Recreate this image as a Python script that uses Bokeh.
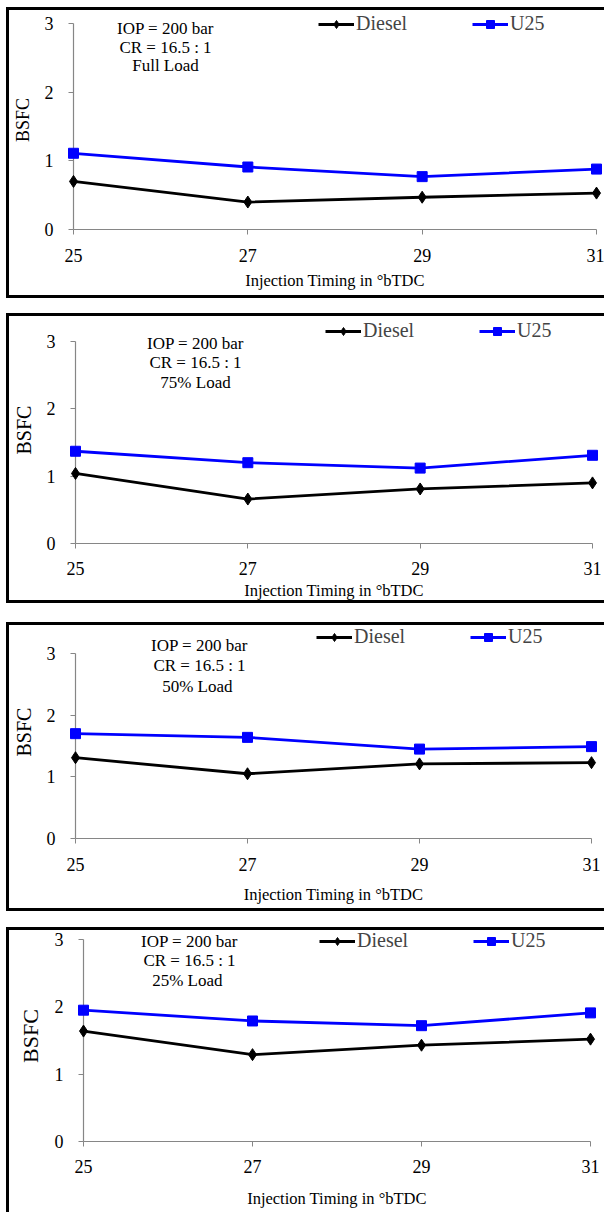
from bokeh.plotting import figure
from bokeh.layouts import column, row
from bokeh.models import Range1d, FixedTicker, Label, Legend, LegendItem
from bokeh.embed import file_html
from bokeh.resources import INLINE

# ---------------- data ----------------
timing = [25, 27, 29, 31]
diesel_full = [0.70, 0.40, 0.47, 0.53]
u25_full = [1.11, 0.91, 0.77, 0.88]
diesel_75 = [1.04, 0.66, 0.81, 0.90]
u25_75 = [1.37, 1.20, 1.12, 1.31]
diesel_50 = [1.31, 1.05, 1.21, 1.23]
u25_50 = [1.70, 1.64, 1.45, 1.49]
diesel_25 = [1.64, 1.29, 1.43, 1.52]
u25_25 = [1.95, 1.79, 1.72, 1.91]
load_labels = ["Full Load", "75% Load", "50%  Load", "25%  Load"]
info_lines = ["IOP = 200 bar", "CR = 16.5 : 1"]
series_names = ["Diesel", "U25"]
x_ticks = [25, 27, 29, 31]
y_ticks = [0, 1, 2, 3]
x_title = "Injection Timing in \u00b0bTDC"
y_title = "BSFC"

FONT = "Liberation Serif"
BW = 3
AXIS_GREY = "#868686"
W = 598
X0 = 6  # left edge of each panel box

# pixel layout per panel (absolute page pixels of the reference)
panels = [
    dict(d=diesel_full, u=u25_full, load=load_labels[0], y0=7, h=291,
         px3=23, px0=229, fl=73, fr=596,
         ann_x=165, ann_y=[28, 47, 65], leg_x=318, leg_y=23, bsfc=18,
         xls=14, xas=6, bottom_border=True),
    dict(d=diesel_75, u=u25_75, load=load_labels[1], y0=313, h=290,
         px3=341, px0=543, fl=71, fr=592,
         ann_x=191, ann_y=[343, 362, 382], leg_x=321, leg_y=330, bsfc=20,
         xls=13, xas=3, bottom_border=True),
    dict(d=diesel_50, u=u25_50, load=load_labels[2], y0=622, h=289,
         px3=653, px0=838, fl=74, fr=591,
         ann_x=198, ann_y=[645, 665, 686], leg_x=315, leg_y=636, bsfc=20,
         xls=14, xas=11, bottom_border=True),
    dict(d=diesel_25, u=u25_25, load=load_labels[3], y0=927, h=285,
         px3=939, px0=1141, fl=83, fr=590,
         ann_x=189, ann_y=[941, 960, 980], leg_x=319, leg_y=940, bsfc=22,
         xls=13, xas=13, bottom_border=False),
]

rows = []
prev_bottom = 0
for cfg in panels:
    H = cfg["h"]
    canvas_top = cfg["y0"] + BW
    canvas_left = X0 + BW
    frame_h = cfg["px0"] - canvas_top
    mbb = H - frame_h
    mbl = cfg["fl"] - canvas_left
    mbr = canvas_left + W - cfg["fr"]
    y_end = 3.0 * frame_h / (cfg["px0"] - cfg["px3"])
    p = figure(width=W, height=H, output_backend="svg", toolbar_location=None,
               x_range=Range1d(25, 31), y_range=Range1d(0, y_end),
               min_border_left=mbl, min_border_right=mbr,
               min_border_top=0, min_border_bottom=mbb)
    p.outline_line_color = None
    p.xgrid.visible = False
    p.ygrid.visible = False
    p.background_fill_color = "white"
    p.border_fill_color = "white"

    for ax, ticks in ((p.xaxis, x_ticks), (p.yaxis, y_ticks)):
        ax.ticker = FixedTicker(ticks=ticks)
        ax.axis_line_color = AXIS_GREY
        ax.axis_line_width = 1.2
        ax.major_tick_line_color = AXIS_GREY
        ax.major_tick_out = 5
        ax.major_tick_in = 0
        ax.minor_tick_line_color = None
        ax.major_label_text_font = FONT
        ax.major_label_text_font_size = "18px"
        ax.major_label_text_color = "black"
        ax.axis_label_text_font = FONT
        ax.axis_label_text_font_style = "normal"
        ax.axis_label_text_color = "black"
    p.yaxis.bounds = (0, 3)
    p.xaxis.axis_label = x_title
    p.xaxis.axis_label_text_font_size = "16.5px"
    p.xaxis.major_label_standoff = cfg["xls"]
    p.xaxis.axis_label_standoff = cfg["xas"]
    p.yaxis.axis_label = y_title
    p.yaxis.axis_label_text_font_size = "%dpx" % cfg["bsfc"]
    p.yaxis.major_label_standoff = 15
    p.yaxis.axis_label_standoff = 9

    l1 = p.line(timing, cfg["d"], line_color="black", line_width=2.8, level="overlay")
    s1 = p.scatter(timing, cfg["d"], marker="diamond", size=12, color="black", level="overlay")
    l2 = p.line(timing, cfg["u"], line_color="#0000FF", line_width=2.8, level="overlay")
    s2 = p.scatter(timing, cfg["u"], marker="square", size=10, color="#0000FF", level="overlay")

    legend = Legend(items=[LegendItem(label=series_names[0], renderers=[l1, s1]),
                           LegendItem(label=series_names[1], renderers=[l2, s2])],
                    orientation="horizontal", glyph_width=36, glyph_height=20,
                    label_standoff=2, spacing=65, padding=0, margin=0,
                    label_text_font=FONT, label_text_font_size="20px",
                    label_height=20, background_fill_alpha=0, border_line_color=None,
                    location=(cfg["leg_x"] - cfg["fl"], cfg["px0"] - cfg["leg_y"] - 12))
    p.add_layout(legend)

    texts = info_lines + [cfg["load"]]
    for t, ay in zip(texts, cfg["ann_y"]):
        p.add_layout(Label(x=cfg["ann_x"] - cfg["fl"], y=cfg["px0"] - ay,
                           x_units="screen", y_units="screen",
                           text=t, text_font=FONT, text_font_size="17px",
                           text_align="center", text_baseline="middle", text_color="black"))

    st = {"border-left": "%dpx solid black" % BW, "border-top": "%dpx solid black" % BW}
    if cfg["bottom_border"]:
        st["border-bottom"] = "%dpx solid black" % BW
    p.styles = st
    p.margin = (cfg["y0"] - prev_bottom, 0, 0, X0)
    prev_bottom = cfg["y0"] + H
    rows.append(row(p))

layout = column(*rows, spacing=0)
open("out.html", "w").write(file_html(layout, INLINE))
